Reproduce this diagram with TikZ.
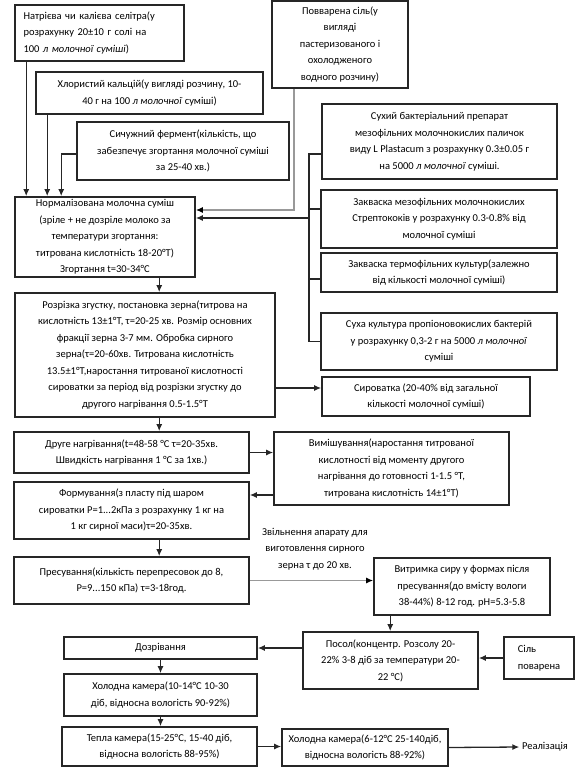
\documentclass[tikz,border=0pt]{standalone}
\usepackage{fontspec}
\setmainfont{Carlito}
\usetikzlibrary{arrows.meta}

\begin{document}
\begin{tikzpicture}[x=1pt, y=-1pt,
  box/.style={draw=black!85, line width=1.6pt, inner sep=2pt, align=center, font={\fontsize{10.5}{16.5}\selectfont}},
  link/.style={line width=1.3pt, draw=black!85},
  arr/.style={link, -{Latex[length=7pt,width=6pt]}},
  grayarr/.style={line width=1.8pt, draw=black!40, -{Latex[length=7pt,width=6pt,color=black]}}
]
\useasboundingbox (0,0) rectangle (585,774);
\node[box, align=left, text width=152pt, minimum width=169pt, minimum height=56pt] (natr) at (99.5,33) {Натрієва чи калієва селітра(у\\розрахунку 20±10 г солі на\\100 \textit{л молочної суміші})};
\node[box, minimum width=227pt, minimum height=42pt] (kalc) at (149.5,93) {Хлористий кальцій(у вигляді розчину, 10-\\40 г на 100 \textit{л молочної} суміші)};
\node[box, minimum width=212pt, minimum height=58pt] (sych) at (183,151) {Сичужний фермент(кількість, що\\забезпечує згортання молочної суміші\\за 25-40 хв.)};
\node[box, minimum width=136pt, minimum height=87pt] (povar) at (340,44.5) {Повварена сіль(у\\вигляді\\пастеризованого і\\охолодженого\\водного розчину)};
\node[box, minimum width=180pt, minimum height=80pt] (norm) at (105,237) {Нормалізована молочна суміш\\(зріле + не дозріле молоко за\\температури згортання:\\титрована кислотність 18-20°Т)\\Згортання t=30-34°С};
\node[box, minimum width=235pt, minimum height=75pt] (bakt) at (439.5,141.5) {Сухий бактеріальний препарат\\мезофільних молочнокислих паличок\\виду L Plastacum з розрахунку 0.3±0.05 г\\на 5000 \textit{л молочної} суміші.};
\node[box, minimum width=236pt, minimum height=58pt] (mezo) at (439,219) {Закваска мезофільних молочнокислих\\Стрептококів у розрахунку 0.3-0.8\% від\\молочної суміші};
\node[box, minimum width=236pt, minimum height=39pt] (term) at (439,272.5) {Закваска термофільних культур(залежно\\від кількості молочної суміші)};
\node[box, minimum width=236pt, minimum height=57pt] (kult) at (439,341.5) {Суха культура пропіоновокислих бактерій\\у розрахунку 0,3-2 г на 5000 \textit{л молочної}\\суміші};
\node[box, minimum width=260pt, minimum height=124pt] (rozr) at (145,355) {Розрізка згустку, постановка зерна(титрова на\\кислотність 13±1°Т, τ=20-25 хв. Розмір основних\\фракції зерна 3-7 мм. Обробка сирного\\зерна(τ=20-60хв. Титрована кислотність\\13.5±1°Т,наростання титрованої кислотності\\сироватки за період від розрізки згустку до\\другого нагрівання 0.5-1.5°Т};
\node[box, minimum width=208pt, minimum height=39pt] (syrov) at (426,396.5) {Сироватка (20-40\% від загальної\\кількості молочної суміші)};
\node[box, minimum width=235pt, minimum height=41pt] (drug) at (131.5,452.5) {Друге нагрівання(t=48-58 °С τ=20-35хв.\\Швидкість нагрівання 1 °С за 1хв.)};
\node[box, minimum width=235pt, minimum height=73pt] (vym) at (391.5,468.5) {Вимішування(наростання титрованої\\кислотності від моменту другого\\нагрівання до готовності 1-1.5 °Т,\\титрована кислотність 14±1°Т)};
\node[box, minimum width=235pt, minimum height=57pt] (form) at (131.5,510.5) {Формування(з пласту під шаром\\сироватки Р=1...2кПа з розрахунку 1 кг на\\1 кг сирної маси)τ=20-35хв.};
\node[box, minimum width=235pt, minimum height=47pt] (pres) at (131.5,580.5) {Пресування(кількість перепресовок до 8,\\Р=9...150 кПа) τ=3-18год.};
\node[box, draw=none, minimum width=120pt] (zvil) at (315,549) {Звільнення апарату для\\виготовлення сирного\\зерна τ до 20 хв.};
\node[box, minimum width=176pt, minimum height=57pt] (vytr) at (462,586.5) {Витримка сиру у формах після\\пресування(до вмісту вологи\\38-44\%) 8-12 год. pH=5.3-5.8};
\node[box, minimum width=175pt, minimum height=57pt] (posol) at (390.5,660.5) {Посол(концентр. Розсолу 20-\\22\% 3-8 діб за температури 20-\\22 °С)};
\node[box, align=left, minimum width=70pt, minimum height=42pt] (sil) at (539,658) {Сіль\\поварена};
\node[box, minimum width=193pt, minimum height=22pt] (dozr) at (160.5,648) {Дозрівання};
\node[box, minimum width=193pt, minimum height=42pt] (khol1) at (160.5,695) {Холодна камера(10-14°С 10-30\\діб, відносна вологість 90-92\%)};
\node[box, minimum width=195pt, minimum height=39pt] (tepla) at (159.5,746.5) {Тепла камера(15-25°С, 15-40 діб,\\відносна вологість 88-95\%)};
\node[box, minimum width=166pt, minimum height=37pt] (khol2) at (365,747.5) {Холодна камера(6-12°С 25-140діб,\\відносна вологість 88-92\%)};
\node[box, draw=none] (real) at (545,747) {Реалізація};
\coordinate (bus) at (309,218);
\draw[arr] ([xshift=12pt]natr.south west) -- ([xshift=12pt]norm.north west);
\draw[arr] ([xshift=12pt]kalc.south west) -- ([xshift=12pt]kalc.south west |- norm.north);
\draw[arr] ([yshift=-3pt]sych.west) -| ([xshift=47pt]norm.north west);
\draw[grayarr] ([xshift=23pt]povar.south west) |- ([yshift=27pt]norm.east);
\draw[link] ([yshift=-12.5pt]bakt.west) -| (bus);
\draw[link] (kult.west) -| (bus);
\draw[link] ([yshift=10pt]mezo.west) -- ([yshift=10pt]mezo.west -| bus);
\draw[link] ([yshift=-6.5pt]term.west) -- ([yshift=-6.5pt]term.west -| bus);
\draw[arr] (bus) -- ([yshift=19pt]norm.east);
\draw[arr] ([xshift=145pt]norm.south west) -- ([xshift=145pt]rozr.north west);
\draw[arr] ([yshift=-33pt]rozr.east) -- ([yshift=-33pt]rozr.east -| syrov.west);
\draw[arr] ([xshift=145pt]rozr.south west) -- ([xshift=145pt]rozr.south west |- drug.north);
\draw[arr] (drug.east) -- (drug.east -| vym.west);
\draw[arr] ([yshift=-26.5pt]vym.west) -- ([yshift=-26.5pt]vym.west -| form.east);
\draw[arr] ([xshift=146pt]form.south west) -- ([xshift=146pt]pres.north west);
\draw[grayarr] (pres.east) -- (pres.east -| vytr.west);
\draw[arr] ([xshift=17pt]vytr.south west) -- ([xshift=17pt]vytr.south west |- posol.north);
\draw[arr] (sil.west) -- (sil.west -| posol.east);
\draw[arr] (dozr.east -| posol.west) -- (dozr.east);
\draw[arr] (dozr.south) -- (khol1.north);
\draw[arr] (khol1.south) -- (khol1.south |- tepla.north);
\draw[arr] (tepla.east) -- (tepla.east -| khol2.west);
\draw[arr] (khol2.east) -- (real.west);
\end{tikzpicture}
\end{document}
